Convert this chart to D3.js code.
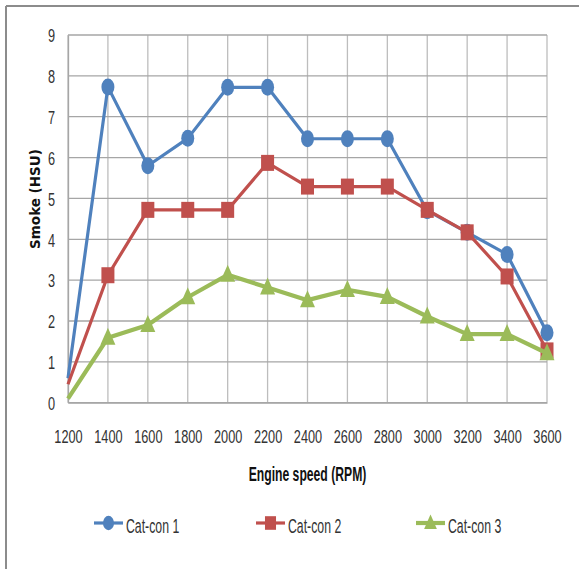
<!DOCTYPE html>
<html>
<head>
<meta charset="utf-8">
<script src="https://cdn.jsdelivr.net/npm/d3@7"></script>
<style>
  html, body { margin: 0; padding: 0; background: #fff; }
  svg { display: block; }
</style>
</head>
<body>
<svg id="chart" width="579" height="569"></svg>
<script>
// Engine speed (RPM) categories
const speeds = [1200, 1400, 1600, 1800, 2000, 2200, 2400, 2600, 2800, 3000, 3200, 3400, 3600];
// Smoke opacity (HSU) for each catalytic converter
const catCon1 = [0.6, 7.73, 5.8, 6.47, 7.72, 7.72, 6.46, 6.46, 6.46, 4.7, 4.17, 3.63, 1.71];
const catCon2 = [0.45, 3.12, 4.72, 4.72, 4.72, 5.87, 5.29, 5.29, 5.29, 4.72, 4.17, 3.09, 1.28];
const catCon3 = [0.1, 1.59, 1.9, 2.58, 3.13, 2.82, 2.51, 2.76, 2.59, 2.11, 1.68, 1.68, 1.21];
const yTicks = [0, 1, 2, 3, 4, 5, 6, 7, 8, 9];
const seriesNames = ["Cat-con 1", "Cat-con 2", "Cat-con 3"];

const series = [
  { name: seriesNames[0], values: catCon1, color: "#4F81BD", marker: "circle", width: 3.2 },
  { name: seriesNames[1], values: catCon2, color: "#C0504D", marker: "square", width: 3.2 },
  { name: seriesNames[2], values: catCon3, color: "#9BBB59", marker: "triangle", width: 4.2 }
];

const narrow = "'Liberation Sans', Arial, sans-serif";
const svg = d3.select("#chart");
const plot = { left: 68, right: 547, top: 35, bottom: 402.7 };

const x = d3.scaleLinear().domain([1200, 3600]).range([plot.left, plot.right]);
const y = d3.scaleLinear().domain([0, 9]).range([plot.bottom, plot.top]);

// outer frame (top and left edges)
svg.append("line").attr("x1", 6).attr("x2", 579).attr("y1", 6).attr("y2", 6)
  .attr("stroke", "#8c8c8c").attr("stroke-width", 2);
svg.append("line").attr("x1", 6).attr("x2", 6).attr("y1", 6).attr("y2", 569)
  .attr("stroke", "#8c8c8c").attr("stroke-width", 2);

// gridlines
const grid = svg.append("g");
grid.selectAll("line.v").data(speeds).join("line")
  .attr("x1", d => x(d)).attr("x2", d => x(d))
  .attr("y1", plot.top).attr("y2", plot.bottom)
  .attr("stroke", "#bdbdbd").attr("stroke-width", 1.3);
grid.selectAll("line.h").data(yTicks).join("line")
  .attr("x1", plot.left).attr("x2", plot.right)
  .attr("y1", d => y(d)).attr("y2", d => y(d))
  .attr("stroke", "#a6a6a6").attr("stroke-width", 1.3);

// y axis
const yAxis = d3.axisLeft(y).tickValues(yTicks).tickSize(0);
const gy = svg.append("g").attr("transform", `translate(${plot.left},0)`).call(yAxis);
gy.select(".domain").attr("stroke", "#a6a6a6").attr("stroke-width", 1.3);
gy.selectAll("text")
  .attr("x", 0).attr("dy", "0.36em")
  .attr("transform", "translate(-13,0) scale(0.67,1)")
  .attr("font-family", narrow).attr("font-size", 19).attr("fill", "#333");

// x axis
const xAxis = d3.axisBottom(x).tickValues(speeds).tickFormat(d3.format("d")).tickSize(0);
const gx = svg.append("g").attr("transform", `translate(0,${plot.bottom})`).call(xAxis);
gx.select(".domain").attr("stroke", "#a6a6a6").attr("stroke-width", 1.3);
gx.selectAll("text")
  .attr("y", 40).attr("dy", 0)
  .attr("transform", "scale(0.67,1)")
  .attr("font-family", narrow).attr("font-size", 19).attr("fill", "#333");

// axis titles
svg.append("text")
  .attr("transform", "translate(40,199) rotate(-90)")
  .attr("text-anchor", "middle")
  .attr("font-family", "'DejaVu Sans', sans-serif").attr("font-weight", "bold")
  .attr("font-size", 13.5).attr("fill", "#111")
  .text("Smoke (HSU)");
svg.append("text")
  .attr("transform", "translate(307.5,481) scale(0.58,1)")
  .attr("text-anchor", "middle")
  .attr("font-family", narrow).attr("font-weight", "bold")
  .attr("font-size", 21).attr("fill", "#111")
  .text("Engine speed (RPM)");

// marker drawing
function drawMarker(g, type, color, cx, cy, scale) {
  const s = scale || 1;
  if (type === "circle") {
    g.append("ellipse").attr("cx", cx).attr("cy", cy).attr("rx", 6.5 * s).attr("ry", 8.5 * s).attr("fill", color);
  } else if (type === "square") {
    g.append("rect").attr("x", cx - 6.5 * s).attr("y", cy - 8 * s)
      .attr("width", 13 * s).attr("height", 16 * s).attr("fill", color);
  } else {
    g.append("path")
      .attr("d", `M${cx},${cy - 10 * s} L${cx + 7.5 * s},${cy + 7 * s} L${cx - 7.5 * s},${cy + 7 * s} Z`)
      .attr("fill", color);
  }
}

// series lines and markers
const line = d3.line().x((d, i) => x(speeds[i])).y(d => y(d));
series.forEach(s => {
  const g = svg.append("g");
  g.append("path").datum(s.values).attr("d", line)
    .attr("fill", "none").attr("stroke", s.color).attr("stroke-width", s.width)
    .attr("stroke-linejoin", "round");
  s.values.forEach((v, i) => {
    if (i === 0) return;
    drawMarker(g, s.marker, s.color, x(speeds[i]), y(v));
  });
});

// legend
const legendX = [94, 256, 416];
series.forEach((s, i) => {
  const g = svg.append("g");
  const lx = legendX[i], ly = 523;
  g.append("line").attr("x1", lx).attr("x2", lx + 29).attr("y1", ly).attr("y2", ly)
    .attr("stroke", s.color).attr("stroke-width", s.width);
  drawMarker(g, s.marker, s.color, lx + 14.5, ly, 0.85);
  g.append("text")
    .attr("transform", `translate(${lx + 32},${ly + 10}) scale(0.63,1)`)
    .attr("font-family", narrow).attr("font-size", 19.5).attr("fill", "#333")
    .text(s.name);
});
</script>
</body>
</html>
